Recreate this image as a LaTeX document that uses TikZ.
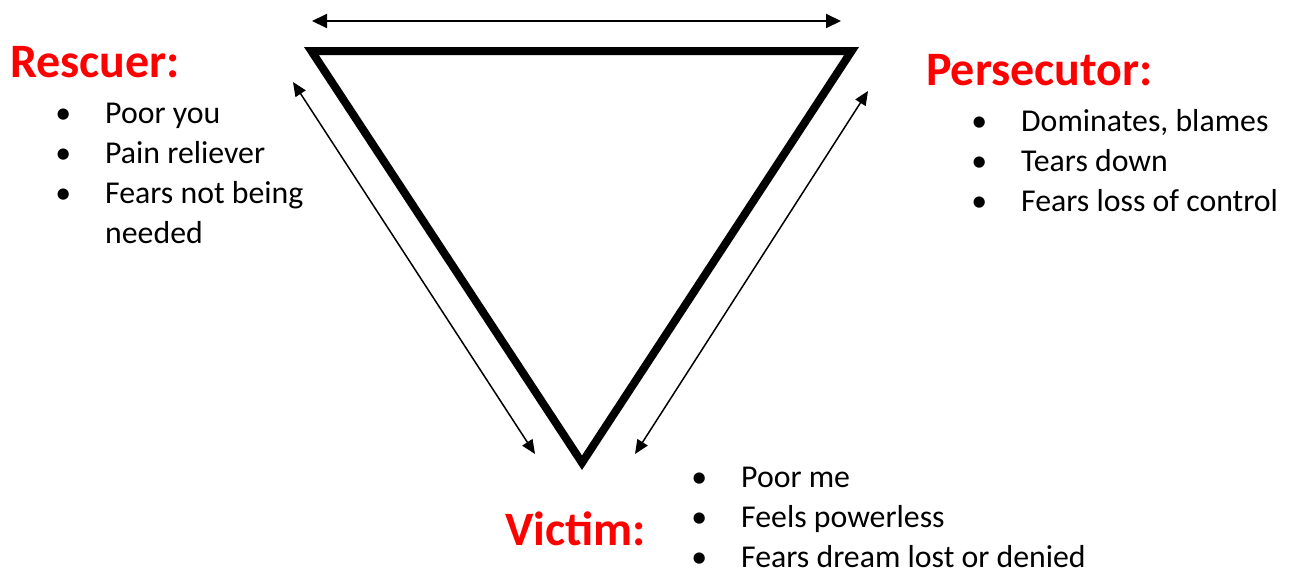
\documentclass[tikz,border=0pt]{standalone}
\usepackage{fontspec}
\setmainfont{Carlito}
\usepackage{graphicx}
\usetikzlibrary{arrows.meta}
\definecolor{rolered}{RGB}{255,0,0}

\newcommand{\blt}[1]{\makebox[0pt]{\textbullet}\hspace*{42pt}#1}

\begin{document}
\begin{tikzpicture}[x=1pt, y=-1pt,
    role/.style={anchor=base west, inner sep=0pt, text=rolered, font=\fontsize{48}{56}\selectfont\bfseries},
    points/.style={anchor=base west, inner sep=0pt, font=\fontsize{31.8}{40}\selectfont},
    toparrow/.style={{Triangle[length=15pt,width=14pt]}-{Triangle[length=15pt,width=14pt]}, line width=2pt},
    sidearrow/.style={{Triangle[length=14pt,width=12pt]}-{Triangle[length=14pt,width=12pt]}, line width=1.5pt}]
    \useasboundingbox (0,0) rectangle (1295,571);

    % Drama triangle
    \coordinate (resc) at (311.4,51);
    \coordinate (pers) at (851.6,51);
    \coordinate (vict) at (582,462.7);
    \draw[line width=8pt, miter limit=10] (resc) -- (pers) -- (vict) -- cycle;

    % Arrows between roles
    \coordinate (topL) at (312,21);
    \coordinate (topR) at (841,21);
    \coordinate (lftT) at (293,82);
    \coordinate (lftB) at (535,454);
    \coordinate (rgtT) at (868,91);
    \coordinate (rgtB) at (635,454);
    \draw[toparrow] (topL) -- (topR);
    \draw[sidearrow] (lftT) -- (lftB);
    \draw[sidearrow] (rgtT) -- (rgtB);

    % Rescuer
    \node[role] (rescuer) at (10,77) {Rescuer:};
    \node[points] (rescpts) at (63,123) {\begin{tabular}[t]{@{}l@{}}
        \blt{Poor you}\\
        \blt{Pain reliever}\\
        \blt{Fears not being}\\
        \hspace*{42pt}needed
      \end{tabular}};

    % Persecutor
    \node[role] (persecutor) at (926,85) {Persecutor:};
    \node[points] (perspts) at (979,131) {\begin{tabular}[t]{@{}l@{}}
        \blt{Dominates, blames}\\
        \blt{Tears down}\\
        \blt{Fears loss of control}
      \end{tabular}};

    % Victim
    \node[role] (victim) at (505,545) {Victim:};
    \node[points] (victpts) at (699,487) {\begin{tabular}[t]{@{}l@{}}
        \blt{Poor me}\\
        \blt{Feels powerless}\\
        \blt{Fears dream lost or denied}
      \end{tabular}};
\end{tikzpicture}
\end{document}
